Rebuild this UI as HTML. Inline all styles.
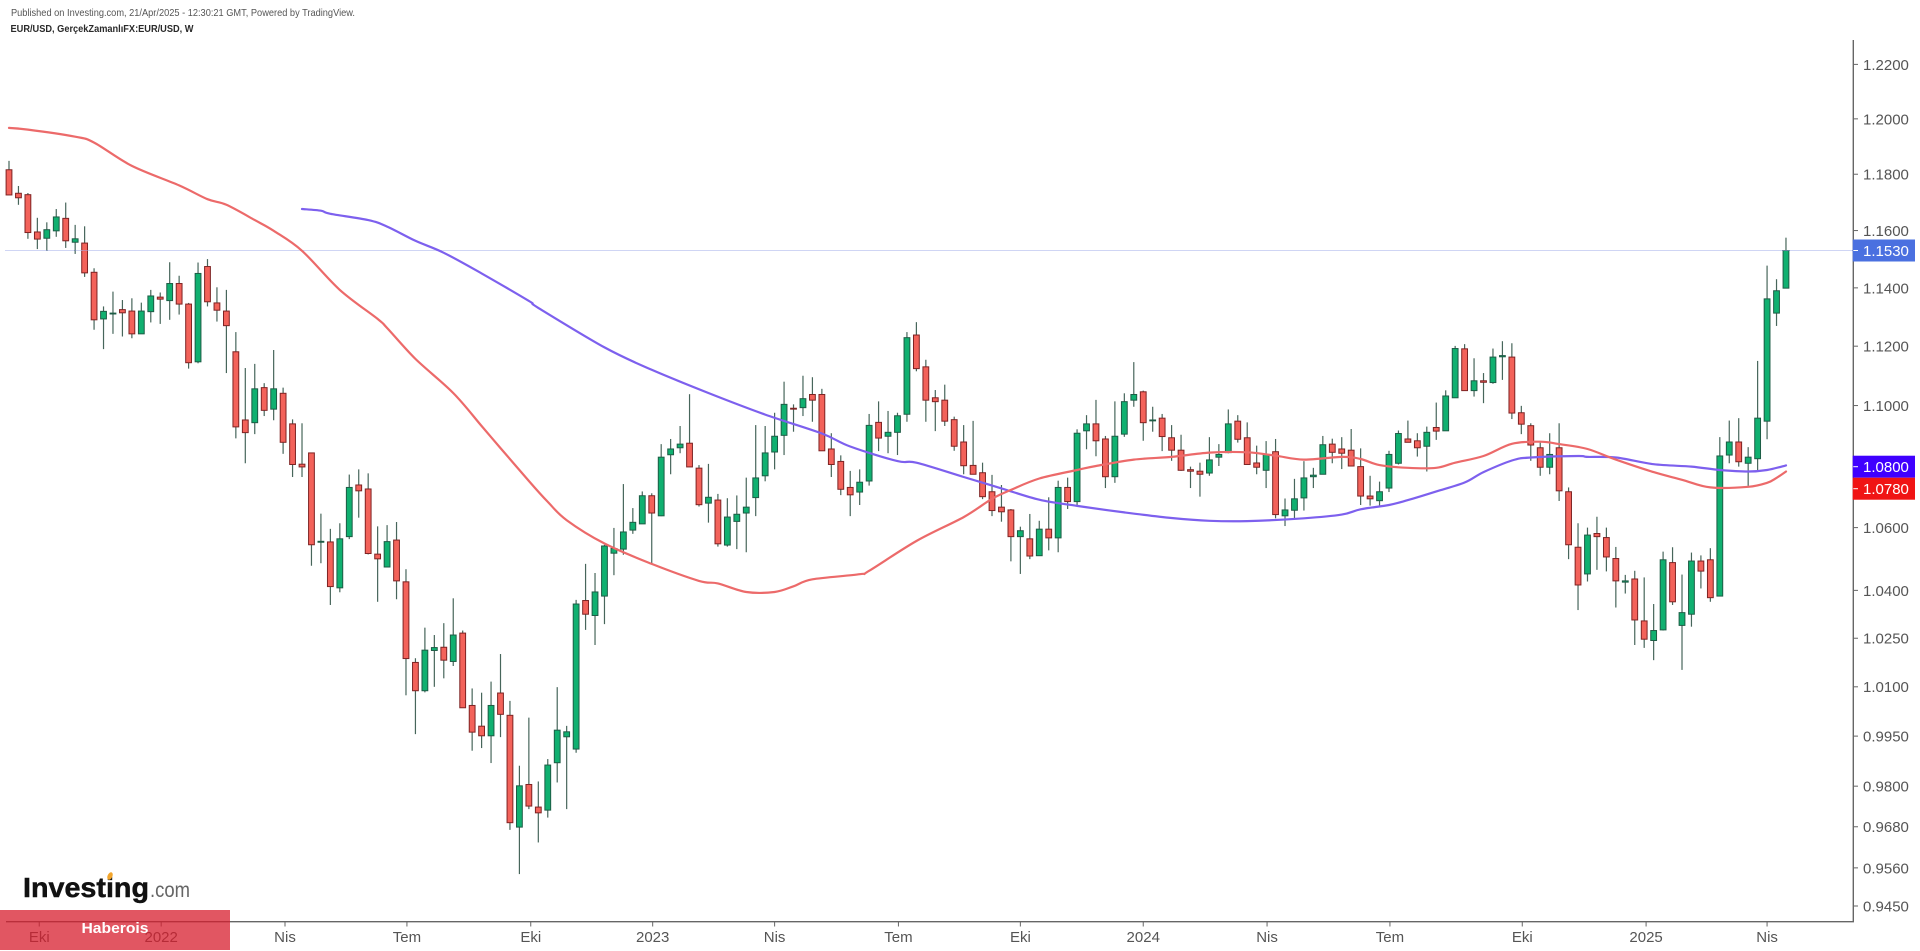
<!DOCTYPE html>
<html lang="tr">
<head>
<meta charset="utf-8">
<title>EUR/USD Weekly Chart</title>
<style>
  html, body { margin: 0; padding: 0; background: #fff; width: 1920px; height: 951px; overflow: hidden; }
  svg { display: block; font-family: "Liberation Sans", Arial, sans-serif; }
  .tick-text { font-size: 15px; fill: #555; }
</style>
</head>
<body>
<svg id="chart" xmlns="http://www.w3.org/2000/svg" width="1920" height="951" viewBox="0 0 1920 951">
  <rect x="0" y="0" width="1920" height="951" fill="#ffffff"></rect>
  <text x="11" y="16" font-size="10.5" fill="#555" textLength="344" lengthAdjust="spacingAndGlyphs">Published on Investing.com, 21/Apr/2025 - 12:30:21 GMT, Powered by TradingView.</text>
  <text x="10.5" y="32" font-size="10.5" font-weight="bold" fill="#2a2a2a" textLength="183" lengthAdjust="spacingAndGlyphs">EUR/USD, GerçekZamanlıFX:EUR/USD, W</text>
  <g id="candles"></g>
  <line id="price-line" stroke="#9fabea" stroke-width="1" stroke-dasharray="1 1"></line>
  <path id="ma-blue" fill="none" stroke="#7d60ee" stroke-width="2.2" stroke-linejoin="round" stroke-linecap="round"></path>
  <path id="ma-red" fill="none" stroke="#ec6a6a" stroke-width="2.2" stroke-linejoin="round" stroke-linecap="round"></path>
  <g id="x-axis"></g>
  <g id="y-axis"></g>
  <g id="tags"></g>
  <g>
    <text x="23" y="897" font-size="28" font-weight="bold" fill="#111" stroke="#111" stroke-width="0.5" textLength="126" lengthAdjust="spacingAndGlyphs">Investing</text>
    <text x="150" y="897" font-size="21" fill="#666" textLength="40" lengthAdjust="spacingAndGlyphs">.com</text>
    <ellipse cx="110" cy="876" rx="2.4" ry="4" fill="#f2a52c" transform="rotate(25 110 876)"></ellipse>
  </g>
  <rect x="0" y="910" width="230" height="40" fill="rgb(215,30,45)" fill-opacity="0.75"></rect>
  <text x="115" y="933" font-size="14.5" font-weight="bold" fill="#ffffff" text-anchor="middle" textLength="67" lengthAdjust="spacingAndGlyphs">Haberois</text>
</svg>
<script>
const opens = [
1.1816,1.1732,1.1727,1.1595,1.1573,1.1599,1.1643,1.1559,1.1556,1.1454,
1.1293,1.1310,1.1325,1.1320,1.1242,1.1318,1.1368,1.1356,1.1415,1.1344,
1.1147,1.1474,1.1348,1.1320,1.1181,1.0952,1.0943,1.1060,1.0988,1.1041,
1.0939,1.0806,1.0843,1.0553,1.0554,1.0408,1.0571,1.0738,1.0725,1.0515,
1.0474,1.0560,1.0427,1.0175,1.0088,1.0212,1.0222,1.0178,1.0266,1.0043,
0.9980,0.9951,1.0081,1.0013,0.9679,0.9805,0.9738,0.9729,0.9870,0.9948,
0.9911,1.0368,1.0321,1.0382,1.0518,1.0531,1.0592,1.0612,1.0703,1.0638,
1.0837,1.0860,1.0875,1.0793,1.0679,1.0689,1.0544,1.0620,1.0647,1.0697,
1.0768,1.0846,1.0901,1.0991,1.0993,1.1037,1.1037,1.0856,1.0815,1.0730,
1.0715,1.0751,1.0944,1.0898,1.0911,1.0971,1.1238,1.1130,1.1026,1.1018,
1.0953,1.0879,1.0802,1.0778,1.0716,1.0666,1.0657,1.0571,1.0564,1.0510,
1.0595,1.0567,1.0730,1.0684,1.0916,1.0939,1.0889,1.0765,1.0905,1.1018,
1.1046,1.0949,1.0958,1.0893,1.0852,1.0788,1.0783,1.0777,1.0829,1.0844,
1.0948,1.0893,1.0810,1.0786,1.0847,1.0638,1.0656,1.0696,1.0765,1.0773,
1.0872,1.0856,1.0852,1.0798,1.0702,1.0687,1.0728,1.0809,1.0889,1.0883,
1.0865,1.0927,1.0916,1.1026,1.1191,1.1050,1.1083,1.1077,1.1164,1.1163,
1.0976,1.0933,1.0860,1.0796,1.0860,1.0716,1.0537,1.0452,1.0581,1.0568,
1.0501,1.0426,1.0436,1.0304,1.0243,1.0276,1.0488,1.0290,1.0325,1.0493,
1.0497,1.0382,1.0836,1.0879,1.0809,1.0824,1.0948,1.1313,1.1399];
const highs = [
1.1848,1.1758,1.1733,1.1645,1.1629,1.1676,1.1699,1.1620,1.1615,1.1468,
1.1336,1.1387,1.1358,1.1364,1.1349,1.1393,1.1384,1.1489,1.1442,1.1348,
1.1488,1.1500,1.1402,1.1393,1.1248,1.1126,1.1140,1.1075,1.1187,1.1060,
1.0954,1.0941,1.0843,1.0645,1.0596,1.0614,1.0772,1.0789,1.0776,1.0604,
1.0608,1.0618,1.0467,1.0188,1.0283,1.0260,1.0297,1.0375,1.0274,1.0095,
1.0082,1.0116,1.0201,1.0057,0.9861,1.0006,0.9814,0.9881,1.0099,0.9981,
1.0370,1.0484,1.0455,1.0545,1.0599,1.0741,1.0663,1.0717,1.0711,1.0872,
1.0889,1.0932,1.1038,1.0803,1.0807,1.0709,1.0695,1.0704,1.0762,1.0935,
1.0932,1.0976,1.1080,1.1004,1.1100,1.1095,1.1056,1.0908,1.0835,1.0784,
1.0789,1.0972,1.1014,1.0982,1.0976,1.1248,1.1282,1.1154,1.1052,1.1070,
1.0963,1.0935,1.0949,1.0811,1.0771,1.0738,1.0660,1.0603,1.0644,1.0622,
1.0698,1.0752,1.0762,1.0921,1.0968,1.1019,1.0899,1.1014,1.1041,1.1146,
1.1050,1.0996,1.0972,1.0935,1.0903,1.0798,1.0811,1.0895,1.0872,1.0987,
1.0968,1.0944,1.0867,1.0882,1.0889,1.0694,1.0758,1.0816,1.0794,1.0899,
1.0890,1.0895,1.0922,1.0858,1.0768,1.0749,1.0850,1.0917,1.0950,1.0908,
1.0930,1.1010,1.1051,1.1201,1.1207,1.1159,1.1109,1.1192,1.1217,1.1210,
1.0999,1.0941,1.0877,1.0908,1.0941,1.0730,1.0614,1.0600,1.0635,1.0600,
1.0538,1.0449,1.0462,1.0441,1.0357,1.0523,1.0537,1.0450,1.0520,1.0511,
1.0534,1.0895,1.0950,1.0958,1.0862,1.1150,1.1477,1.1430,1.1575];
const lows = [
1.1726,1.1691,1.1571,1.1535,1.1529,1.1578,1.1539,1.1518,1.1438,1.1256,
1.1190,1.1242,1.1233,1.1227,1.1242,1.1281,1.1276,1.1290,1.1308,1.1124,
1.1142,1.1336,1.1284,1.1109,1.0891,1.0809,1.0905,1.0965,1.0951,1.0840,
1.0764,1.0764,1.0478,1.0486,1.0354,1.0394,1.0563,1.0632,1.0514,1.0364,
1.0474,1.0372,1.0074,0.9956,1.0083,1.0100,1.0126,1.0164,1.0036,0.9906,
0.9914,0.9869,0.9947,0.9671,0.9542,0.9732,0.9634,0.9707,0.9811,0.9732,
0.9900,1.0276,1.0229,1.0294,1.0448,1.0513,1.0580,1.0612,1.0486,1.0637,
1.0773,1.0842,1.0797,1.0668,1.0616,1.0539,1.0539,1.0531,1.0521,1.0637,
1.0750,1.0789,1.0836,1.0913,1.0965,1.0946,1.0850,1.0764,1.0705,1.0637,
1.0673,1.0736,1.0849,1.0842,1.0836,1.0946,1.1115,1.0946,1.0915,1.0932,
1.0850,1.0773,1.0773,1.0692,1.0637,1.0619,1.0492,1.0452,1.0499,1.0510,
1.0527,1.0521,1.0660,1.0670,1.0855,1.0832,1.0728,1.0745,1.0896,1.0996,
1.0883,1.0913,1.0849,1.0817,1.0784,1.0728,1.0700,1.0768,1.0800,1.0842,
1.0877,1.0805,1.0773,1.0728,1.0630,1.0605,1.0628,1.0655,1.0728,1.0773,
1.0809,1.0790,1.0800,1.0673,1.0671,1.0666,1.0715,1.0805,1.0878,1.0831,
1.0782,1.0886,1.0916,1.1026,1.1050,1.1030,1.1008,1.1073,1.1086,1.0955,
1.0905,1.0817,1.0768,1.0773,1.0686,1.0499,1.0338,1.0428,1.0465,1.0460,
1.0346,1.0390,1.0229,1.0220,1.0182,1.0274,1.0354,1.0152,1.0286,1.0406,
1.0364,1.0382,1.0809,1.0798,1.0735,1.0782,1.0888,1.1269,1.1399];
const closes = [
1.1726,1.1716,1.1593,1.1570,1.1603,1.1648,1.1564,1.1571,1.1452,1.1290,
1.1319,1.1313,1.1314,1.1242,1.1320,1.1372,1.1361,1.1415,1.1344,1.1144,
1.1450,1.1352,1.1323,1.1270,1.0929,1.0910,1.1056,1.0984,1.1056,1.0878,
1.0805,1.0797,1.0545,1.0556,1.0412,1.0564,1.0730,1.0719,1.0517,1.0500,
1.0555,1.0430,1.0187,1.0088,1.0213,1.0221,1.0182,1.0260,1.0036,0.9962,
0.9951,1.0043,1.0016,0.9692,0.9801,0.9741,0.9721,0.9863,0.9968,0.9963,
1.0357,1.0325,1.0395,1.0541,1.0533,1.0586,1.0617,1.0703,1.0647,1.0829,
1.0856,1.0872,1.0797,1.0674,1.0698,1.0548,1.0634,1.0643,1.0666,1.0761,
1.0843,1.0898,1.1004,1.0988,1.1023,1.1018,1.0850,1.0805,1.0724,1.0706,
1.0747,1.0934,1.0892,1.0911,1.0966,1.1229,1.1124,1.1018,1.1013,1.0948,
1.0865,1.0801,1.0773,1.0700,1.0655,1.0651,1.0571,1.0590,1.0509,1.0595,
1.0567,1.0730,1.0684,1.0908,1.0939,1.0883,1.0765,1.0898,1.1013,1.1037,
1.0943,1.0952,1.0897,1.0852,1.0786,1.0783,1.0773,1.0820,1.0838,1.0939,
1.0888,1.0805,1.0796,1.0838,1.0642,1.0657,1.0693,1.0761,1.0770,1.0870,
1.0845,1.0842,1.0800,1.0702,1.0693,1.0716,1.0838,1.0907,1.0878,1.0860,
1.0911,1.0915,1.1032,1.1192,1.1050,1.1083,1.1078,1.1163,1.1168,1.0975,
1.0938,1.0869,1.0796,1.0838,1.0719,1.0545,1.0417,1.0576,1.0571,1.0506,
1.0430,1.0430,1.0307,1.0247,1.0274,1.0497,1.0364,1.0330,1.0493,1.0461,
1.0377,1.0833,1.0879,1.0814,1.0829,1.0958,1.1362,1.1390,1.1530];

const maRedWeeks = [0,2,7,9,13,18,21,23,26,28,31,35,39,40,43,47,50,52,55,57,59,63,68,73,75,78,81,83,85,90,91,96,101,104,106,109,113,115,119,123,127,131,134,137,141,143,145,148,151,153,156,159,162,164,167,170,174,177,180,184,186,187,188];
const maRedValues = [1.1967,1.1961,1.1935,1.1914,1.1830,1.1760,1.1711,1.1691,1.1637,1.1599,1.1529,1.1393,1.1293,1.1262,1.1157,1.1042,1.0932,1.0859,1.0751,1.0683,1.0624,1.0549,1.0484,1.0430,1.0422,1.0395,1.0395,1.0413,1.0435,1.0451,1.0462,1.0557,1.0634,1.0693,1.0722,1.0759,1.0787,1.0800,1.0821,1.0830,1.0844,1.0845,1.0834,1.0821,1.0830,1.0823,1.0803,1.0794,1.0794,1.0811,1.0833,1.0873,1.0880,1.0872,1.0856,1.0821,1.0780,1.0755,1.0730,1.0732,1.0745,1.0761,1.0782];
const maBlueWeeks = [31,33,34,38,40,43,46,50,55,56,63,68,74,80,86,89,94,96,101,105,109,113,118,123,127,131,137,141,143,146,148,151,154,156,159,161,166,167,170,174,178,181,184,186,188];
const maBlueValues = [1.1676,1.1670,1.1659,1.1637,1.1614,1.1564,1.1522,1.1450,1.1355,1.1331,1.1196,1.1120,1.1042,1.0970,1.0907,1.0864,1.0816,1.0811,1.0764,1.0727,1.0690,1.0670,1.0649,1.0631,1.0622,1.0621,1.0630,1.0642,1.0659,1.0673,1.0689,1.0717,1.0746,1.0780,1.0818,1.0828,1.0833,1.0830,1.0828,1.0806,1.0798,1.0787,1.0782,1.0787,1.0802];

const yTickValues = [1.22,1.20,1.18,1.16,1.14,1.12,1.10,1.06,1.04,1.025,1.01,0.995,0.98,0.968,0.956,0.945];
const xTickWeeks = [3.2,16.1,29.2,42.1,55.2,68.1,81,94.1,107,120,133.1,146.1,160.1,173.2,186];
const xTickLabels = ["Eki","2022","Nis","Tem","Eki","2023","Nis","Tem","Eki","2024","Nis","Tem","Eki","2025","Nis"];
const maBlueTag = 1.0800;
const maRedTag = 1.0780;

const NS = "http://www.w3.org/2000/svg";
function xOf(w) { return 9 + 9.452 * w; }
function yOf(p) { return 906 - 3295 * Math.log(p / 0.945); }
function mk(tag, parent) {
  const el = document.createElementNS(NS, tag);
  parent.appendChild(el);
  return el;
}

const candleGroup = document.getElementById("candles");
opens.forEach(function (o, i) {
  const c = closes[i];
  const up = c >= o;
  const x = xOf(i);
  const wick = mk("line", candleGroup);
  
  
  wick.setAttribute("x1", x);
  wick.setAttribute("x2", x);
  wick.setAttribute("y1", yOf(highs[i]));
  wick.setAttribute("y2", yOf(lows[i]));
  wick.setAttribute("stroke", "#47665b");
  wick.setAttribute("stroke-width", "1.2");
  const top = yOf(Math.max(o, c));
  const bottom = yOf(Math.min(o, c));
  const body = mk("rect", candleGroup);
  
  
  body.setAttribute("x", x - 2.9);
  body.setAttribute("y", top);
  body.setAttribute("width", 5.8);
  body.setAttribute("height", Math.max(bottom - top, 0.6));
  body.setAttribute("fill", up ? "#10b070" : "#f3625a");
  body.setAttribute("stroke", up ? "#1d5c45" : "#7e2323");
  body.setAttribute("stroke-width", "1");
});

function smoothPath(weeks, values) {
  const px = weeks.map(xOf);
  const py = values.map(yOf);
  let d = "M" + px[0].toFixed(1) + " " + py[0].toFixed(1);
  for (let i = 0; i < px.length - 1; i++) {
    const a = Math.max(i - 1, 0);
    const b = Math.min(i + 2, px.length - 1);
    const c1x = px[i] + (px[i + 1] - px[a]) / 6;
    const c1y = py[i] + (py[i + 1] - py[a]) / 6;
    const c2x = px[i + 1] - (px[b] - px[i]) / 6;
    const c2y = py[i + 1] - (py[b] - py[i]) / 6;
    d += " C" + c1x.toFixed(1) + " " + c1y.toFixed(1) + " " + c2x.toFixed(1) + " " + c2y.toFixed(1) + " " + px[i + 1].toFixed(1) + " " + py[i + 1].toFixed(1);
  }
  return d;
}
document.getElementById("ma-red").setAttribute("d", smoothPath(maRedWeeks, maRedValues));
document.getElementById("ma-blue").setAttribute("d", smoothPath(maBlueWeeks, maBlueValues));

const lastClose = closes[closes.length - 1];
const priceLine = document.getElementById("price-line");
priceLine.setAttribute("x1", 5.5);
priceLine.setAttribute("x2", 1853);
priceLine.setAttribute("y1", yOf(lastClose));
priceLine.setAttribute("y2", yOf(lastClose));

const xAxis = document.getElementById("x-axis");
const xLine = mk("line", xAxis);


xLine.setAttribute("x1", 6);
xLine.setAttribute("x2", 1854);
xLine.setAttribute("y1", 921.7);
xLine.setAttribute("y2", 921.7);
xLine.setAttribute("stroke", "#666");
xLine.setAttribute("stroke-width", "1.4");
xTickWeeks.forEach(function (w, i) {
  const t = mk("line", xAxis);
  
  
  t.setAttribute("x1", xOf(w));
  t.setAttribute("x2", xOf(w));
  t.setAttribute("y1", 921.7);
  t.setAttribute("y2", 926.5);
  t.setAttribute("stroke", "#666");
  t.setAttribute("stroke-width", "1");
  const lab = mk("text", xAxis);
  
  
  lab.setAttribute("class", "tick-text");
  lab.setAttribute("x", xOf(w));
  lab.setAttribute("y", 942);
  lab.setAttribute("text-anchor", "middle");
  lab.textContent = xTickLabels[i];
});

const yAxis = document.getElementById("y-axis");
const yLine = mk("line", yAxis);


yLine.setAttribute("x1", 1853.3);
yLine.setAttribute("x2", 1853.3);
yLine.setAttribute("y1", 40);
yLine.setAttribute("y2", 922);
yLine.setAttribute("stroke", "#666");
yLine.setAttribute("stroke-width", "1.4");
yTickValues.forEach(function (v) {
  const y = yOf(v);
  const t = mk("line", yAxis);
  
  
  t.setAttribute("x1", 1853.3);
  t.setAttribute("x2", 1858);
  t.setAttribute("y1", y);
  t.setAttribute("y2", y);
  t.setAttribute("stroke", "#666");
  t.setAttribute("stroke-width", "1");
  const lab = mk("text", yAxis);
  
  
  lab.setAttribute("class", "tick-text");
  lab.setAttribute("x", 1863);
  lab.setAttribute("y", y + 5.4);
  lab.textContent = v.toFixed(4);
});

const tags = document.getElementById("tags");
function drawTag(name, value, cy, color) {
  const r = mk("rect", tags);
  
  
  r.setAttribute("x", 1852.7);
  r.setAttribute("y", cy - 11);
  r.setAttribute("width", 62.3);
  r.setAttribute("height", 22);
  r.setAttribute("fill", color);
  const t = mk("line", tags);
  
  
  t.setAttribute("x1", 1853.3);
  t.setAttribute("x2", 1858);
  t.setAttribute("y1", cy);
  t.setAttribute("y2", cy);
  t.setAttribute("stroke", "#ffffff");
  t.setAttribute("stroke-width", "1");
  const lab = mk("text", tags);
  
  
  lab.setAttribute("x", 1863);
  lab.setAttribute("y", cy + 5.4);
  lab.setAttribute("font-size", "15");
  lab.setAttribute("fill", "#ffffff");
  lab.textContent = value.toFixed(4);
}
const blueTagY = yOf(maBlueTag) + 0.7;
drawTag("last-price-tag", lastClose, yOf(lastClose), "#4a70e0");
drawTag("ma-100-tag", maBlueTag, blueTagY, "#3f00ff");
drawTag("ma-50-tag", maRedTag, Math.max(yOf(maRedTag), blueTagY + 22), "#f01414");
</script>
</body>
</html>
